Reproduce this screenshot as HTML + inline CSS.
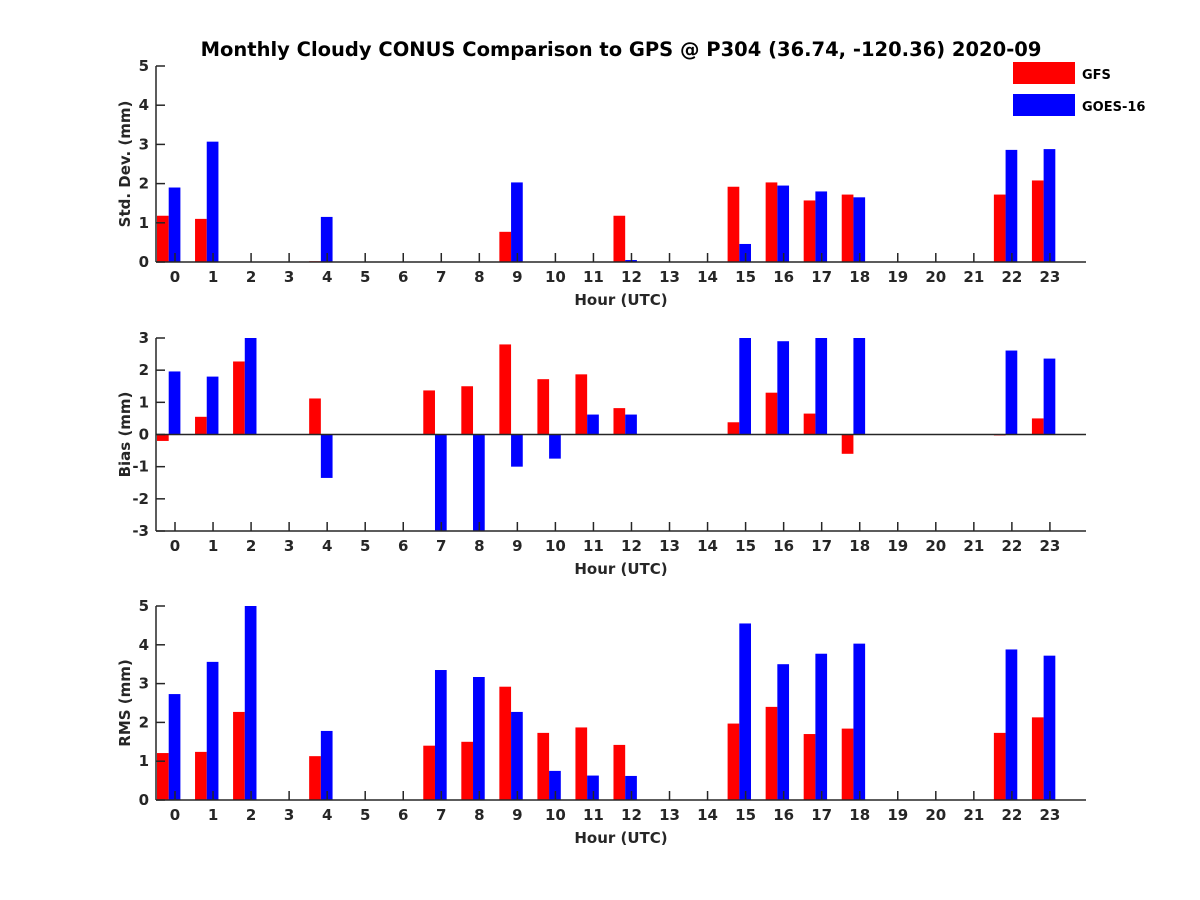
<!DOCTYPE html>
<html><head><meta charset="utf-8"><style>
html,body{margin:0;padding:0;background:#fff;}
svg{display:block;font-family:"DejaVu Sans","Liberation Sans",sans-serif;font-weight:bold;}
</style></head><body>
<svg id="chart" width="1200" height="900" viewBox="0 0 1200 900">
<text x="621" y="56" font-size="19.5" text-anchor="middle" fill="#000">Monthly Cloudy CONUS Comparison to GPS @ P304 (36.74, -120.36) 2020-09</text>
<rect x="1013" y="62" width="62" height="22" fill="#ff0000"/>
<text x="1082" y="79" font-size="13" fill="#000">GFS</text>
<rect x="1013" y="94" width="62" height="22" fill="#0000ff"/>
<text x="1082" y="111" font-size="13" fill="#000">GOES-16</text>
</svg>
<script>
const hours = [0,1,2,3,4,5,6,7,8,9,10,11,12,13,14,15,16,17,18,19,20,21,22,23];
const stdGFS  = [1.18,1.1,null,null,0.02,null,null,null,null,0.77,null,null,1.18,null,null,1.92,2.03,1.57,1.72,null,null,null,1.72,2.08];
const stdGOES = [1.9,3.07,null,null,1.15,null,null,null,null,2.03,null,null,0.05,null,null,0.46,1.95,1.8,1.65,null,null,null,2.86,2.88];
const biasGFS  = [-0.2,0.55,2.27,null,1.12,null,null,1.37,1.5,2.8,1.72,1.87,0.82,null,null,0.38,1.3,0.65,-0.6,null,null,null,-0.03,0.5];
const biasGOES = [1.96,1.8,4.5,null,-1.35,null,null,-3.2,-3.1,-1.0,-0.75,0.62,0.62,null,null,4.2,2.9,3.3,3.6,null,null,null,2.61,2.36];
const rmsGFS  = [1.21,1.24,2.27,null,1.13,null,null,1.4,1.5,2.92,1.73,1.87,1.42,null,null,1.97,2.4,1.7,1.84,null,null,null,1.73,2.13];
const rmsGOES = [2.73,3.56,5.0,null,1.78,null,null,3.35,3.17,2.27,0.75,0.63,0.62,null,null,4.55,3.5,3.77,4.03,null,null,null,3.88,3.72];
const stdTicks = [0,1,2,3,4,5];
const biasTicks = [-3,-2,-1,0,1,2,3];
const rmsTicks = [0,1,2,3,4,5];

const NS = "http://www.w3.org/2000/svg";
const svg = document.getElementById('chart');
const AX = "#262626";
const xLeft = 156, xRight = 1086;
function xScale(h){ return 175 + h*38.04; }
function mk(tag, attrs){ const e=document.createElementNS(NS,tag); for(const k in attrs) e.setAttribute(k,attrs[k]); svg.appendChild(e); return e; }

function panel(key, top, bottom, ymin, ymax, ticks, ylabel, gfs, goes){
  const yS = v => bottom - (Math.max(ymin,Math.min(ymax,v))-ymin)/(ymax-ymin)*(bottom-top);
  const y0 = yS(Math.max(ymin,0));
  hours.forEach((h,i)=>{
    const cx = xScale(h);
    [[gfs[i],'#ff0000',-11.7,'gfs'],[goes[i],'#0000ff',0,'goes']].forEach(([v,c,off,s])=>{
      if(v===null) return;
      const y = yS(v);
      const r = mk('rect',{x:cx+off-6.3,y:Math.min(y,y0),width:11.7,height:Math.max(Math.abs(y-y0),0.8),fill:c});
      
      
    });
  });
  if(ymin<0){
    const z = mk('line',{x1:xLeft,x2:xRight,y1:yS(0),y2:yS(0),stroke:AX,'stroke-width':1.5});
    
    
  }
  const la = mk('line',{x1:xLeft,x2:xLeft,y1:top,y2:bottom,stroke:AX,'stroke-width':1.5});
  
  
  const ba = mk('line',{x1:xLeft,x2:xRight,y1:bottom,y2:bottom,stroke:AX,'stroke-width':1.5});
  
  
  ticks.forEach(t=>{
    const y = yS(t);
    mk('line',{x1:xLeft,x2:xLeft+9,y1:y,y2:y,stroke:AX,'stroke-width':1.5});
    const tx = mk('text',{x:xLeft-7,y:y+5,'font-size':15,'text-anchor':'end',fill:AX});
    tx.textContent = t;
    
    
  });
  hours.forEach(h=>{
    const x = xScale(h);
    mk('line',{x1:x,x2:x,y1:bottom,y2:bottom-9,stroke:AX,'stroke-width':1.5});
    const tx = mk('text',{x:x,y:bottom+20,'font-size':15,'text-anchor':'middle',fill:AX});
    tx.textContent = h;
    
    
  });
  const xl = mk('text',{x:621,y:bottom+43,'font-size':15,'text-anchor':'middle',fill:AX});
  xl.textContent = 'Hour (UTC)';
  
  
  const cy = (top+bottom)/2;
  const yl = mk('text',{x:0,y:0,'font-size':15,'text-anchor':'middle',fill:AX,transform:`translate(130,${cy}) rotate(-90)`});
  yl.textContent = ylabel;
  
  
}
panel('std', 66, 262, 0, 5, stdTicks, 'Std. Dev. (mm)', stdGFS, stdGOES);
panel('bias', 338, 531, -3, 3, biasTicks, 'Bias (mm)', biasGFS, biasGOES);
panel('rms', 606, 800, 0, 5, rmsTicks, 'RMS (mm)', rmsGFS, rmsGOES);
</script>
</body></html>
